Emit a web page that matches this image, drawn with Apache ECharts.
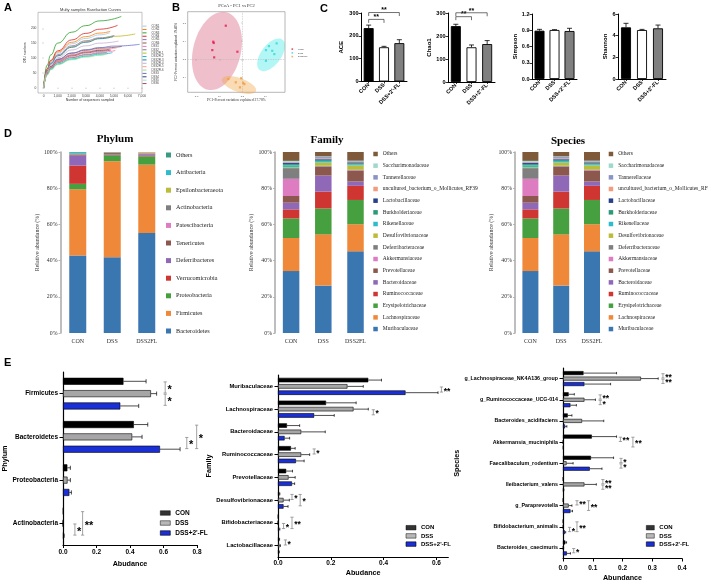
<!DOCTYPE html>
<html><head><meta charset="utf-8">
<script src="https://cdn.jsdelivr.net/npm/echarts@6.0.0/dist/echarts.min.js"></script>
<style>html,body{margin:0;padding:0;background:#fff;}#chart{width:708px;height:584px;}</style>
</head><body><div id="chart"></div>
<script>
// ================= DATA =================
// A: rarefaction curves [sequences sampled, OTU number]
const rareCON = [
 [[0,0],[250,60],[500,87],[1000,116],[2000,148],[3000,166],[4000,178],[4700,185]],
 [[0,0],[250,62],[500,90],[1000,120],[2000,153],[3000,172],[4000,184],[4740,190]],
 [[0,0],[250,76],[500,110],[1000,150],[2000,187],[3000,209],[4000,225],[5525,240]],
 [[0,0],[250,64],[500,92],[1000,124],[2000,161],[3000,183],[4000,197],[5260,210]],
 [[0,0],[250,57],[500,83],[1000,111],[2000,141],[3000,158],[4000,168],[5030,176]],
 [[0,0],[250,50],[500,72],[1000,96],[2000,116],[3000,126],[4000,133],[5570,139]]
];
const rareDSS = [
 [[0,0],[250,45],[500,66],[1000,86],[2000,103],[3000,112],[4000,119],[5100,125]],
 [[0,0],[250,46],[500,65],[1000,84],[2000,101],[3000,110],[4000,116],[4500,119]],
 [[0,0],[250,50],[500,72],[1000,95],[2000,117],[3000,128],[4000,135],[5000,140],[6830,146]],
 [[0,0],[250,48],[500,70],[1000,92],[2000,110],[3000,120],[4000,126],[4700,130]],
 [[0,0],[250,43],[500,61],[1000,80],[2000,96],[3000,105],[4000,111],[4600,115]],
 [[0,0],[250,47],[500,68],[1000,89],[2000,107],[3000,117],[4000,123],[4800,127]]
];
const rareDSS2FL = [
 [[0,0],[250,55],[500,80],[1000,108],[2000,138],[3000,155],[4000,166],[5000,173],[6520,181]],
 [[0,0],[250,44],[500,62],[1000,80],[2000,97],[3000,106],[4000,113],[4900,118]],
 [[0,0],[250,55],[500,80],[1000,107],[2000,136],[3000,153],[4000,165],[4950,172]],
 [[0,0],[250,52],[500,76],[1000,101],[2000,127],[3000,141],[4000,150],[5330,157]],
 [[0,0],[250,48],[500,69],[1000,91],[2000,111],[3000,122],[4000,129],[5200,134]],
 [[0,0],[250,42],[500,60],[1000,78],[2000,94],[3000,103],[4000,109],[4400,112]]
];
const rareNames = ['CON1','CON2','CON3','CON4','CON5','CON6','DSS1','DSS2','DSS2FL1','DSS2FL2','DSS2FL3','DSS2FL4','DSS2FL5','DSS2FL6','DSS3','DSS4','DSS5','DSS6'];
const rareXTicks = [0,1000,2000,3000,4000,5000,6000,7000];
const rareYTicks = [0,50,100,150,200];

// B: PCoA
const pcoaCON = [[-0.072,0.185],[-0.126,0.097],[-0.124,0.090],[-0.130,0.051],[-0.122,0.011],[-0.022,0.042]];
const pcoaDSS = [[0.114,0.073],[0.147,0.088],[0.128,0.047],[0.137,0.029],[0.101,0.051],[0.101,-0.008]];
const pcoaDSS2FL = [[-0.061,-0.108],[-0.029,-0.126],[-0.006,-0.104],[0.003,-0.129],[0.008,-0.136],[-0.011,-0.154]];
// ellipse: centre x, centre y, semi-axis 1 (dx,dy), semi-axis 2 (dx,dy)
const ellipseCON = [-0.110,0.046, 0.040,0.213, 0.100,-0.030];
const ellipseDSS = [0.123,0.025, 0.049,0.0835, 0.0345,-0.033];
const ellipseDSS2FL = [-0.015,-0.141, 0.073,-0.0335, -0.0103,-0.036];
const pcoaXTicks = [-0.2,-0.1,0,0.1];
const pcoaYTicks = [-0.1,0,0.1,0.2];

// C: alpha diversity
const alphaGroups = ['CON','DSS',"DSS+2'-FL"];
const aceMean = [234,150,168], aceErr = [13,4,15];
const chaoMean = [243,151,165], chaoErr = [8,10,15];
const simpsonMean = [0.892,0.905,0.886], simpsonErr = [0.025,0.006,0.05];
const shannonMean = [4.77,4.52,4.68], shannonErr = [0.37,0.06,0.3];
const aceSig = [[0,1,272,'**'],[0,2,302,'**']];
const chaoSig = [[0,1,284,'**'],[0,2,301,'**']];

// D: relative abundance (%)
const stackGroups = ['CON','DSS','DSS2FL'];
const phylumNames = ['Bacteroidetes','Firmicutes','Proteobacteria','Verrucomicrobia','Deferribacteres','Tenericutes','Patescibacteria','Actinobacteria','Epsilonbacteraeota','Atribacteria','Others'];
const phylumCON    = [42.8,36.6,3.0,10.1,5.5,0.6,0.1,0.2,0.1,0.6,0.4];
const phylumDSS    = [41.9,53.0,3.3,0.2,0.3,0.7,0.1,0.3,0.1,0.05,0.05];
const phylumDSS2FL = [55.3,37.7,4.6,0.3,0.8,0.4,0.3,0.2,0.4,0,0];
const familyNames = ['Muribaculaceae','Lachnospiraceae','Erysipelotrichaceae','Ruminococcaceae','Bacteroidaceae','Prevotellaceae','Akkermansiaceae','Deferribacteraceae','Desulfovibrionaceae','Rikenellaceae','Burkholderiaceae','Lactobacillaceae','uncultured_bacterium_o_Mollicutes_RF39','Tannerellaceae','Saccharimonadaceae','Others'];
const familyCON    = [34.2,18.3,10.8,5.0,3.7,3.7,9.5,5.9,0.5,1.0,0.7,0.6,0.3,0.4,0.5,4.9];
const familyDSS    = [26.2,28.3,14.3,9.3,8.9,4.7,0.2,0.5,1.8,0.8,0.5,0.5,0.4,0.8,0.4,2.4];
const familyDSS2FL = [45.1,15.0,13.4,7.8,2.4,6.1,0.2,0.3,2.3,0.6,0.6,0.5,0.2,0.4,0.3,4.8];
const speciesNames = familyNames;
const speciesCON    = [34.2,18.3,10.8,5.0,3.7,3.7,9.5,5.9,0.5,1.0,0.7,0.6,0.3,0.4,0.5,4.9];
const speciesDSS    = [26.2,28.3,14.3,9.3,8.9,4.7,0.2,0.5,1.8,0.8,0.5,0.5,0.4,0.8,0.4,2.4];
const speciesDSS2FL = [45.1,15.0,13.4,7.8,2.4,6.1,0.2,0.3,2.3,0.6,0.6,0.5,0.2,0.4,0.3,4.8];

// E: differential abundance
const eGroups = ['CON','DSS',"DSS+2'-FL"];
const ePhylumCats = ['Firmicutes','Bacteroidetes','Proteobacteria','Actinobacteria'];
const ePhylumCON = [0.361,0.423,0.026,0.002], ePhylumCONErr = [0.135,0.083,0.018,0.001];
const ePhylumDSS = [0.525,0.413,0.027,0.0005], ePhylumDSSErr = [0.034,0.059,0.017,0.0005];
const ePhylumFL  = [0.342,0.579,0.038,0.004], ePhylumFLErr = [0.11,0.12,0.012,0.003];
const ePhylumSig = [[0,0,1,0.61,'*'],[0,1,2,0.61,'*'],[1,1,2,0.739,'*'],[1,0,2,0.798,'*'],[3,1,2,0.071,'*'],[3,0,2,0.117,'**']];

const eFamilyCats = ['Muribaculaceae','Lachnospiraceae','Bacteroidaceae','Ruminococcaceae','Prevotellaceae','Desulfovibrionaceae','Bifidobacteriaceae','Lactobacillaceae'];
const eFamilyCON = [0.342,0.182,0.034,0.049,0.031,0.005,0.001,0.004], eFamilyCONErr = [0.05,0.114,0.048,0.016,0.024,0.002,0.001,0.002];
const eFamilyDSS = [0.263,0.286,0.088,0.088,0.040,0.021,0.0005,0.005], eFamilyDSSErr = [0.06,0.056,0.091,0.032,0.025,0.022,0.0005,0.004];
const eFamilyFL  = [0.483,0.137,0.025,0.068,0.053,0.021,0.004,0.003], eFamilyFLErr = [0.123,0.076,0.019,0.031,0.01,0.017,0.003,0.002];
const eFamilySig = [[0,1,2,0.619,'**'],[1,1,2,0.361,'*'],[3,0,1,0.137,'*'],[5,0,1,0.053,'*'],[5,0,2,0.084,'*'],[6,1,2,0.021,'*'],[6,0,2,0.053,'**'],[7,0,1,0.028,'*']];

const eSpeciesCats = ['g_Lachnospiraceae_NK4A136_group','g_Ruminococcaceae_UCG-014','Bacteroides_acidifaciens','Akkermansia_muciniphila','Faecalibaculum_rodentium','Ileibacterium_valens','g_Paraprevotella','Bifidobacterium_animalis','Bacteroides_caecimuris'];
const eSpeciesCON = [0.069,0.019,0.016,0.097,0.094,0.0005,0.0005,0.0005,0.008], eSpeciesCONErr = [0.111,0.019,0.014,0.083,0.076,0,0,0,0.004];
const eSpeciesDSS = [0.262,0.072,0.064,0.0005,0.012,0.072,0.019,0.0005,0.001], eSpeciesDSSErr = [0.058,0.037,0.073,0,0.022,0.04,0.011,0,0.001];
const eSpeciesFL  = [0.072,0.025,0.007,0.001,0.09,0.002,0.025,0.006,0.013], eSpeciesFLErr = [0.088,0.02,0.006,0,0.041,0.001,0.007,0.003,0.012];
const eSpeciesSig = [[0,0,1,0.336,'**'],[0,1,2,0.336,'**'],[1,0,1,0.125,'**'],[1,1,2,0.125,'*'],[3,0,1,0.193,'**'],[3,0,2,0.235,'**'],[4,0,1,0.195,'*'],[4,1,2,0.195,'*'],[5,0,1,0.134,'**'],[5,1,2,0.134,'**'],[6,0,1,0.047,'**'],[6,0,2,0.086,'**'],[7,1,2,0.022,'*'],[7,0,2,0.047,'**'],[8,1,2,0.036,'*']];

// ================= STYLES =================
const FS = '"Liberation Sans", Arial, Helvetica, sans-serif';
const FSR = '"Liberation Serif", "Times New Roman", serif';
const rareColors = {CON1:'#9ecae1',CON2:'#ff7f0e',CON3:'#2ca02c',CON4:'#d62728',CON5:'#9467bd',CON6:'#8c564b',DSS1:'#e377c2',DSS2:'#7f7f7f',DSS2FL1:'#bcbd22',DSS2FL2:'#17becf',DSS2FL3:'#1f77b4',DSS2FL4:'#c5b0d5',DSS2FL5:'#ff9896',DSS2FL6:'#98df8a',DSS3:'#6b6ecf',DSS4:'#393b79',DSS5:'#9edae5',DSS6:'#ad494a'};
const pcoaColors = {CON:'#e5194b', DSS:'#36d7d7', DSS2FL:'#f29b38'};
const ellipseFill = {CON:'rgba(214,90,120,0.38)', DSS:'rgba(0,225,225,0.30)', DSS2FL:'rgba(240,165,70,0.40)'};
const cBarColors = ['#000000','#ffffff','#808080'];
const phylumColors = ['#3a76b0','#f0883a','#47a03f','#cf3531','#8f68b8','#8c574d','#dd7cc0','#7f7f7f','#bbbd3a','#2ebccc','#3a9a86'];
const familyColors = ['#3a76b0','#f0883a','#47a03f','#cf3531','#8f68b8','#8c574d','#dd7cc0','#7f7f7f','#bbbd3a','#2ebccc','#2a9a78','#283f8c','#f29b7d','#8b93c6','#9fd9c9','#7e5a3a'];
const eFill = ['#000000','#a6a6a6','#1b2fd6'];

// ================= BUILD =================
const grids=[], xAxes=[], yAxes=[], series=[], legends=[], graphics=[];
function addGrid(g){ grids.push(Object.assign({containLabel:false, outerBoundsMode:'none'}, g)); return grids.length-1; }
function txt(x,y,text,font,align,valign,fill){ graphics.push({type:'text', x:x, y:y, silent:true, style:{text:text, font:font, fill:fill||'#000', align:align||'left', verticalAlign:valign||'middle'}}); }

// ---- panel letters and titles
txt(4,8,'A','bold 11px '+FS,'left','middle');
txt(172,8,'B','bold 11px '+FS,'left','middle');
txt(320,8.5,'C','bold 11px '+FS,'left','middle');
txt(4,133.5,'D','bold 11px '+FS,'left','middle');
txt(4,363,'E','bold 11px '+FS,'left','middle');
txt(90.5,10,'Multy samples Rarefaction Curves','4px '+FS,'center','middle','#333');
txt(236.5,6,'PCoA - PC1 vs PC2','4.5px '+FSR,'center','middle','#333');
txt(115,139,'Phylum','bold 11px '+FSR,'center','middle');
txt(327,140.5,'Family','bold 11px '+FSR,'center','middle');
txt(568,141.5,'Species','bold 11px '+FSR,'center','middle');

// ---- A
const gA = addGrid({left:38, top:12.3, width:104, height:80.7, show:true, borderColor:'#9a9a9a', borderWidth:0.6, backgroundColor:'#fff'});
xAxes.push({gridIndex:gA, type:'value', min:-400, max:7000, axisLine:{show:false}, splitLine:{show:false},
  axisTick:{show:true, customValues:rareXTicks, length:1.2, lineStyle:{color:'#666', width:0.4}},
  axisLabel:{customValues:rareXTicks, fontSize:3.3, color:'#444', margin:1.6, fontFamily:FS},
  name:'Number of sequences sampled', nameLocation:'middle', nameGap:3.2, nameTextStyle:{fontSize:3.5, color:'#333', fontFamily:FS}});
yAxes.push({gridIndex:gA, type:'value', min:-18, max:254, axisLine:{show:false}, splitLine:{show:false},
  axisTick:{show:true, customValues:rareYTicks, length:1.2, lineStyle:{color:'#666', width:0.4}},
  axisLabel:{customValues:rareYTicks, fontSize:3.3, color:'#444', margin:1.6, fontFamily:FS},
  name:'OTU numbers', nameLocation:'middle', nameGap:5.5, nameTextStyle:{fontSize:3.3, color:'#333', fontFamily:FS}});
function addRare(list, prefix){
  list.forEach((curve,i)=>{
    const nm = prefix + (i+1);
    series.push({type:'line', name:nm, xAxisIndex:gA, yAxisIndex:gA, data:curve, smooth:true, smoothMonotone:'x', symbol:'none', showSymbol:false,
      lineStyle:{width:0.8, color:rareColors[nm]}, itemStyle:{color:rareColors[nm]}, z:2});
  });
}
addRare(rareCON,'CON'); addRare(rareDSS,'DSS'); addRare(rareDSS2FL,'DSS2FL');
legends.push({orient:'vertical', left:142.5, top:24.6, padding:0, itemWidth:4, itemHeight:1, itemGap:0.38, icon:'rect', selectedMode:false,
  textStyle:{fontSize:2.8, lineHeight:2.8, color:'#444', fontFamily:FS},
  data:rareNames.map(n=>({name:n, itemStyle:{color:rareColors[n]}}))});

// ---- B
const gB = addGrid({left:187.7, top:11.7, width:97.3, height:80.6, show:true, borderColor:'#888', borderWidth:0.6, backgroundColor:'#fff'});
const fmt1 = v => (Math.abs(v)<1e-9 ? '0.0' : v.toFixed(1));
xAxes.push({gridIndex:gB, type:'value', min:-0.236, max:0.183, axisLine:{show:false}, splitLine:{show:false},
  axisTick:{show:true, customValues:pcoaXTicks, length:1.2, lineStyle:{color:'#666', width:0.4}},
  axisLabel:{customValues:pcoaXTicks, fontSize:2.8, color:'#555', margin:2, fontFamily:FSR, formatter:fmt1},
  name:'PC1-Percent variation explained 37.78%', nameLocation:'middle', nameGap:5, nameTextStyle:{fontSize:3.6, color:'#333', fontFamily:FSR}});
yAxes.push({gridIndex:gB, type:'value', min:-0.181, max:0.262, axisLine:{show:false}, splitLine:{show:false},
  axisTick:{show:true, customValues:pcoaYTicks, length:1.2, lineStyle:{color:'#666', width:0.4}},
  axisLabel:{customValues:pcoaYTicks, fontSize:2.8, color:'#555', margin:1.5, fontFamily:FSR, formatter:fmt1},
  name:'PC2-Percent variation explained 19.46%', nameLocation:'middle', nameGap:6, nameTextStyle:{fontSize:3.6, color:'#333', fontFamily:FSR}});
function addEllipse(e, key){
  series.push({type:'custom', name:'ellipse '+key, xAxisIndex:gB, yAxisIndex:gB, data:[[e[0],e[1]]], z:1, silent:true,
    renderItem:(params, api)=>{
      const pts=[];
      for(let k=0;k<72;k++){ const t=k/72*Math.PI*2;
        pts.push(api.coord([e[0]+e[2]*Math.cos(t)+e[4]*Math.sin(t), e[1]+e[3]*Math.cos(t)+e[5]*Math.sin(t)])); }
      return {type:'polygon', shape:{points:pts}, style:{fill:ellipseFill[key], stroke:null}};
    }});
}
addEllipse(ellipseCON,'CON'); addEllipse(ellipseDSS,'DSS'); addEllipse(ellipseDSS2FL,'DSS2FL');
[['CON',pcoaCON],['DSS',pcoaDSS],['DSS2FL',pcoaDSS2FL]].forEach(([k,d],i)=>{
  const s = {type:'scatter', name:k, xAxisIndex:gB, yAxisIndex:gB, data:d, symbol:'rect', symbolSize:2.2, itemStyle:{color:pcoaColors[k]}, z:3};
  if(i===0){ s.markLine = {silent:true, symbol:['none','none'], label:{show:false}, lineStyle:{color:'#b5b5b5', width:0.5, type:[1.5,1]}, data:[{xAxis:0},{yAxis:0}]}; }
  series.push(s);
});
legends.push({orient:'vertical', left:291.5, top:47.6, padding:0, itemWidth:1.6, itemHeight:1.6, itemGap:0.75, icon:'rect', selectedMode:false,
  textStyle:{fontSize:2.5, lineHeight:2.6, color:'#444', fontFamily:FS},
  data:['CON','DSS','DSS2FL'].map(n=>({name:n, itemStyle:{color:pcoaColors[n]}}))});

// ---- C
function addAlpha(left, top, width, height, max, interval, means, errs, sigs, title, nameGap, labelFmt){
  const g = addGrid({left:left, top:top, width:width, height:height});
  xAxes.push({gridIndex:g, type:'category', data:alphaGroups, axisLine:{lineStyle:{color:'#000', width:1}},
    axisTick:{show:true, alignWithLabel:true, length:2, lineStyle:{color:'#000', width:0.8}},
    axisLabel:{interval:0, rotate:45, fontSize:5.5, fontWeight:'bold', color:'#000', margin:2.5, fontFamily:FS}});
  yAxes.push({gridIndex:g, type:'value', min:0, max:max, interval:interval, splitLine:{show:false},
    axisLine:{show:true, lineStyle:{color:'#000', width:1}}, axisTick:{show:true, length:2.5, lineStyle:{color:'#000', width:0.8}},
    axisLabel:{fontSize:5.5, fontWeight:'bold', color:'#000', margin:2.5, fontFamily:FS, formatter:labelFmt},
    name:title, nameLocation:'middle', nameGap:nameGap, nameTextStyle:{fontSize:6, fontWeight:'bold', color:'#000', fontFamily:FS}});
  series.push({type:'bar', name:title, xAxisIndex:g, yAxisIndex:g, data:means.map((m,i)=>({value:m, itemStyle:{color:cBarColors[i]}})),
    barWidth:10, itemStyle:{borderColor:'#000', borderWidth:0.9}, z:2});
  series.push({type:'custom', xAxisIndex:g, yAxisIndex:g, data:means.map((m,i)=>[i, m+errs[i]]), z:3, silent:true,
    renderItem:(params, api)=>{
      const i=params.dataIndex; const p0=api.coord([i, means[i]]), p1=api.coord([i, means[i]+errs[i]]);
      return {type:'group', children:[
        {type:'line', shape:{x1:p0[0],y1:p0[1],x2:p1[0],y2:p1[1]}, style:{stroke:'#000', lineWidth:0.8}},
        {type:'line', shape:{x1:p1[0]-2.5,y1:p1[1],x2:p1[0]+2.5,y2:p1[1]}, style:{stroke:'#000', lineWidth:0.8}}]};
    }});
  if(sigs){
    series.push({type:'custom', xAxisIndex:g, yAxisIndex:g, data:sigs.map(s=>[s[0], s[2]]), z:4, silent:true,
      renderItem:(params, api)=>{
        const s=sigs[params.dataIndex]; const a=api.coord([s[0], s[2]]), b=api.coord([s[1], s[2]]);
        return {type:'group', children:[
          {type:'polyline', shape:{points:[[a[0],a[1]+3.5],[a[0],a[1]],[b[0],b[1]],[b[0],b[1]+3.5]]}, style:{stroke:'#333', lineWidth:0.7, fill:null}},
          {type:'text', x:(a[0]+b[0])/2, y:a[1]-2.2, style:{text:s[3], font:'bold 7px '+FS, fill:'#000', align:'center', verticalAlign:'middle'}}]};
      }});
  }
}
addAlpha(361,13,46,68.5,300,100,aceMean,aceErr,aceSig,'ACE',17,null);
addAlpha(448,13,47,69,300,100,chaoMean,chaoErr,chaoSig,'Chao1',14.5,null);
addAlpha(532,14,45,65,1.2,0.3,simpsonMean,simpsonErr,null,'Simpson',11.5,v=>v.toFixed(1));
addAlpha(618,14,48,65,6,2,shannonMean,shannonErr,null,'Shannon',8,null);

// ---- D
function addStack(left, width, names, con, dss, fl, colors, stackKey, barW, legLeft, legOpts){
  const g = addGrid({left:left, top:152, width:width, height:181});
  xAxes.push({gridIndex:g, type:'category', data:stackGroups, axisLine:{show:false}, axisTick:{show:false},
    axisLabel:{interval:0, fontSize:6, color:'#333', margin:5, fontFamily:FSR}});
  yAxes.push({gridIndex:g, type:'value', min:0, max:100, interval:20, splitLine:{show:false},
    axisLine:{show:true, lineStyle:{color:'#a8a8a8', width:1.5}}, axisTick:{show:true, length:2, lineStyle:{color:'#a8a8a8', width:0.8}},
    axisLabel:{fontSize:5.8, color:'#333', margin:3, fontFamily:FSR, formatter:'{value}%'},
    name:'Relative abundance (%)', nameLocation:'middle', nameGap:18.5, nameTextStyle:{fontSize:6, color:'#333', fontFamily:FSR}});
  names.forEach((n,i)=>{
    series.push({type:'bar', name:n, xAxisIndex:g, yAxisIndex:g, stack:stackKey, barWidth:barW, data:[con[i], dss[i], fl[i]],
      itemStyle:{color:colors[i]}, z:2});
  });
  legends.push(Object.assign({orient:'vertical', left:legLeft, padding:0, icon:'rect', selectedMode:false,
    data:names.map((n,i)=>({name:n, itemStyle:{color:colors[i]}})).reverse()}, legOpts));
}
addStack(60.5,103.5,phylumNames,phylumCON,phylumDSS,phylumDSS2FL,phylumColors,'ph',17,166,
  {top:151.5, itemWidth:5, itemHeight:5, itemGap:10.6, textStyle:{fontSize:6.2, lineHeight:7, color:'#222', fontFamily:FSR}});
addStack(275,96.6,familyNames,familyCON,familyDSS,familyDSS2FL,familyColors,'fa',16.5,373.3,
  {top:151, itemWidth:4.5, itemHeight:4.5, itemGap:5.67, textStyle:{fontSize:5.5, lineHeight:6, color:'#222', fontFamily:FSR}});
addStack(515,92.4,speciesNames,speciesCON,speciesDSS,speciesDSS2FL,familyColors,'sp',16,608.7,
  {top:151, itemWidth:4.5, itemHeight:4.5, itemGap:5.67, textStyle:{fontSize:5.5, lineHeight:6, color:'#222', fontFamily:FSR}});

// ---- E
function addE(o, cats, means, errs, sigs){
  const g = addGrid({left:o.left, top:o.top, width:o.width, height:o.height});
  const pitch = o.barW*(1+o.gap/100);
  xAxes.push({gridIndex:g, type:'value', min:0, max:o.max, splitLine:{show:false},
    axisLine:{show:true, lineStyle:{color:'#000', width:1.2}},
    axisTick:{show:true, customValues:o.ticks, length:3, lineStyle:{color:'#000', width:1}},
    axisLabel:{customValues:o.ticks, fontSize:6.5, fontWeight:'bold', color:'#000', margin:o.labelMargin, fontFamily:FS, formatter:v=>v.toFixed(1)},
    name:o.xName, nameLocation:'middle', nameGap:o.xNameGap, nameTextStyle:{fontSize:7.2, fontWeight:'bold', color:'#000', fontFamily:FS}});
  yAxes.push({gridIndex:g, type:'category', data:cats, inverse:true,
    axisLine:{show:true, lineStyle:{color:'#000', width:1.2}},
    axisTick:{show:true, alignWithLabel:true, length:3.5, lineStyle:{color:'#000', width:1}},
    axisLabel:{interval:0, fontSize:o.catFont, fontWeight:'bold', color:'#000', margin:5, fontFamily:FS},
    name:o.yName, nameLocation:'middle', nameGap:o.yNameGap, nameTextStyle:{fontSize:7.2, fontWeight:'bold', color:'#000', fontFamily:FS}});
  eGroups.forEach((gn,k)=>{
    series.push({type:'bar', name:gn, xAxisIndex:g, yAxisIndex:g, data:means[k], barWidth:o.barW, barGap:o.gap+'%',
      itemStyle:{color:eFill[k], borderColor:'#000', borderWidth:0.6}, z:2});
  });
  const items=[];
  cats.forEach((c,ci)=>{ for(let k=0;k<3;k++) items.push([means[k][ci]+errs[k][ci], ci, k]); });
  series.push({type:'custom', xAxisIndex:g, yAxisIndex:g, data:items.map(it=>[it[0], it[1]]), encode:{x:0, y:1}, z:3, silent:true,
    renderItem:(params, api)=>{
      const it=items[params.dataIndex]; const ci=it[1], k=it[2];
      const m=means[k][ci], e=errs[k][ci];
      if(!(e>0)) return {type:'group', children:[]};
      const p0=api.coord([m, ci]), p1=api.coord([m+e, ci]); const y=p0[1]+(k-1)*pitch;
      const ch=Math.max(1.2, o.barW*0.3);
      return {type:'group', children:[
        {type:'line', shape:{x1:p0[0],y1:y,x2:p1[0],y2:y}, style:{stroke:'#000', lineWidth:0.7}},
        {type:'line', shape:{x1:p1[0],y1:y-ch,x2:p1[0],y2:y+ch}, style:{stroke:'#000', lineWidth:0.7}}]};
    }});
  series.push({type:'custom', xAxisIndex:g, yAxisIndex:g, data:sigs.map(s=>[s[3], s[0]]), encode:{x:0, y:1}, z:4, silent:true,
    renderItem:(params, api)=>{
      const s=sigs[params.dataIndex]; const c=api.coord([s[3], s[0]]);
      const y1=c[1]+(s[1]-1)*pitch+0.6, y2=c[1]+(s[2]-1)*pitch-0.6;
      const ym=(y1+y2)/2;
      return {type:'group', children:[
        {type:'line', shape:{x1:c[0],y1:y1,x2:c[0],y2:y2}, style:{stroke:'#8c8c8c', lineWidth:0.8}},
        {type:'line', shape:{x1:c[0]-1.6,y1:y1,x2:c[0]+1.6,y2:y1}, style:{stroke:'#8c8c8c', lineWidth:0.8}},
        {type:'line', shape:{x1:c[0]-1.6,y1:y2,x2:c[0]+1.6,y2:y2}, style:{stroke:'#8c8c8c', lineWidth:0.8}},
        {type:'text', x:c[0]+2.2, y:ym+o.starFont*0.2, style:{text:s[4], font:'bold '+o.starFont+'px '+FS, fill:'#000', align:'left', verticalAlign:'middle'}}]};
    }});
  legends.push({orient:'vertical', left:o.legLeft, top:o.legTop, padding:0, icon:'rect', selectedMode:false,
    itemWidth:o.legW, itemHeight:4.5, itemGap:o.legGap,
    textStyle:{fontSize:o.legFont, lineHeight:o.legFont, fontWeight:'bold', color:'#000', fontFamily:FS},
    data:eGroups.map((n,k)=>({name:n, itemStyle:{color:eFill[k], borderColor:'#000', borderWidth:0.6}}))});
}
addE({left:63, top:372, width:134, height:173, max:0.8, ticks:[0,0.2,0.4,0.6,0.8], barW:7, gap:76, catFont:6.5, starFont:11,
  labelMargin:3.5, xName:'Abudance', xNameGap:15.5, yName:'Phylum', yNameGap:53, legLeft:160, legTop:509.5, legW:10, legGap:3, legFont:6.5},
  ePhylumCats, [ePhylumCON,ePhylumDSS,ePhylumFL], [ePhylumCONErr,ePhylumDSSErr,ePhylumFLErr], ePhylumSig);
addE({left:278, top:375, width:170.3, height:182, max:0.645, ticks:[0,0.2,0.4,0.6], barW:4.5, gap:40, catFont:5.8, starFont:8.5,
  labelMargin:3, xName:'Abudance', xNameGap:12.5, yName:'Family', yNameGap:59, legLeft:405.7, legTop:524.7, legW:10, legGap:2.2, legFont:6},
  eFamilyCats, [eFamilyCON,eFamilyDSS,eFamilyFL], [eFamilyCONErr,eFamilyDSSErr,eFamilyFLErr], eFamilySig);
addE({left:563, top:368, width:119, height:190.5, max:0.4, ticks:[0,0.1,0.2,0.3,0.4], barW:4, gap:37, catFont:5.3, starFont:8.5,
  labelMargin:6, xName:'Abundance', xNameGap:16.5, yName:'Species', yNameGap:83, legLeft:646, legTop:524.7, legW:8, legGap:2.2, legFont:6},
  eSpeciesCats, [eSpeciesCON,eSpeciesDSS,eSpeciesFL], [eSpeciesCONErr,eSpeciesDSSErr,eSpeciesFLErr], eSpeciesSig);

const chart = echarts.init(document.getElementById('chart'), null, {renderer:'canvas'});
chart.setOption({animation:false, backgroundColor:'#fff', textStyle:{fontFamily:FS},
  grid:grids, xAxis:xAxes, yAxis:yAxes, series:series, legend:legends, graphic:graphics, tooltip:{show:false}});
</script></body></html>
